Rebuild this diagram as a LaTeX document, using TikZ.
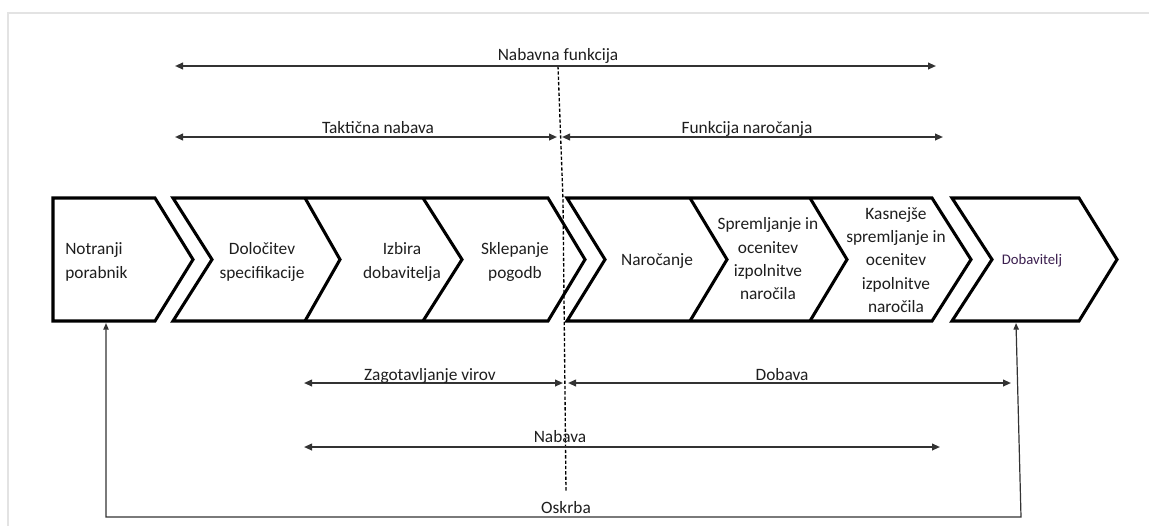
\documentclass[tikz,border=0pt]{standalone}
\usepackage{fontspec}
\setmainfont{Carlito}
\usetikzlibrary{arrows.meta}
\definecolor{txt}{HTML}{1E1E1E}
\definecolor{dobcol}{HTML}{3B1F4F}
\definecolor{framegray}{HTML}{E3E3E3}
\definecolor{arrowgray}{HTML}{333333}
\begin{document}
\begin{tikzpicture}[x=0.75pt,y=-0.75pt,
  chev/.style={draw=black, line width=2.3pt, line join=miter, miter limit=10, fill=white},
  divider/.style={draw=black, line width=2.3pt, line join=miter, miter limit=10},
  lbl/.style={font=\fontsize{13}{17.5}\selectfont, text=txt, inner sep=0pt},
  boxtxt/.style={lbl, align=center},
  dimline/.style={draw=arrowgray, line width=1.3pt,
     {Triangle[length=6pt,width=5pt]}-{Triangle[length=6pt,width=5pt]}},
  supply/.style={draw=arrowgray, line width=0.9pt,
     {Triangle[length=5pt,width=4pt]}-{Triangle[length=5pt,width=4pt]}},
  splitline/.style={draw=black, line width=1pt, dash pattern=on 2.5pt off 1.5pt}
]
\useasboundingbox[fill=white] (0,0) rectangle (1149,526);
% outer frame
\draw[framegray, line width=1.4pt] (8,526) -- (8,13) -- (1149,13);

% chevron 1
\draw[chev] (53,198) -- (155,198) -- (193,259.5) -- (155,321) -- (53,321) -- cycle;
% group 2
\draw[chev] (173,198) -- (548,198) -- (585,259.5) -- (548,321) -- (173,321) -- (212,259.5) -- cycle;
\draw[divider] (305,198) -- (340,259.5) -- (305,321);
\draw[divider] (423,198) -- (462,259.5) -- (423,321);
% group 3
\draw[chev] (567,198) -- (932,198) -- (971,259.5) -- (932,321) -- (567,321) -- (605,259.5) -- cycle;
\draw[divider] (690,198) -- (727,259.5) -- (690,321);
\draw[divider] (810,198) -- (847,259.5) -- (810,321);
% Dobavitelj
\draw[chev] (952,198) -- (1079,198) -- (1117,259.5) -- (1079,321) -- (952,321) -- (992,259.5) -- cycle;

% box texts
\node[lbl, align=left, anchor=west] (notr) at (65,262) {Notranji\\porabnik};
\node[boxtxt] (dol) at (262,262) {Določitev\\specifikacije};
\node[boxtxt] (izb) at (402,262) {Izbira\\dobavitelja};
\node[boxtxt] (skl) at (515,262) {Sklepanje\\pogodb};
\node[boxtxt] (nar) at (657,261) {Naročanje};
\node[boxtxt] (spr) at (768,259) {Spremljanje in\\ocenitev\\izpolnitve\\naročila};
\node[boxtxt] (kas) at (896,260) {Kasnejše\\spremljanje in\\ocenitev\\izpolnitve\\naročila};
\node[lbl, font=\fontsize{11}{13}\selectfont, text=dobcol] (dob) at (1032,261) {Dobavitelj};

% dashed split line
\coordinate (splitT) at (558,66);
\coordinate (splitM) at (563,200);
\coordinate (splitB) at (566,492);
\draw[splitline] (splitT) -- (splitM) -- (splitB);

% upper spans
\coordinate (nfL) at (175,66);  \coordinate (nfR) at (936,66);
\coordinate (tnL) at (175,137); \coordinate (tnR) at (557,137);
\coordinate (fnL) at (562,137); \coordinate (fnR) at (943,137);
\draw[dimline] (nfL) -- (nfR);
\draw[dimline] (tnL) -- (tnR);
\draw[dimline] (fnL) -- (fnR);
\node[lbl, anchor=base] (tNF) at (558,60) {Nabavna funkcija};
\node[lbl, anchor=base] (tTN) at (378,133) {Taktična nabava};
\node[lbl, anchor=base] (tFN) at (747,133) {Funkcija naročanja};

% lower spans
\coordinate (zvL) at (304,383); \coordinate (zvR) at (563,383);
\coordinate (dbL) at (568,383); \coordinate (dbR) at (1011,383);
\coordinate (nbL) at (304,447); \coordinate (nbR) at (940,447);
\draw[dimline] (zvL) -- (zvR);
\draw[dimline] (dbL) -- (dbR);
\draw[dimline] (nbL) -- (nbR);
\node[lbl, anchor=base] (tZV) at (430,380) {Zagotavljanje virov};
\node[lbl, anchor=base] (tDB) at (782,380) {Dobava};
\node[lbl, anchor=base] (tNB) at (560,442) {Nabava};

% Oskrba loop
\coordinate (nbot) at (106,323);
\coordinate (oskL) at (106,517);
\coordinate (oskR) at (1021,517);
\coordinate (dbot) at (1016,323);
\draw[supply] (nbot) -- (oskL) -- (oskR) -- (dbot);
\node[lbl, anchor=base] (tOS) at (566,513) {Oskrba};
\end{tikzpicture}
\end{document}
